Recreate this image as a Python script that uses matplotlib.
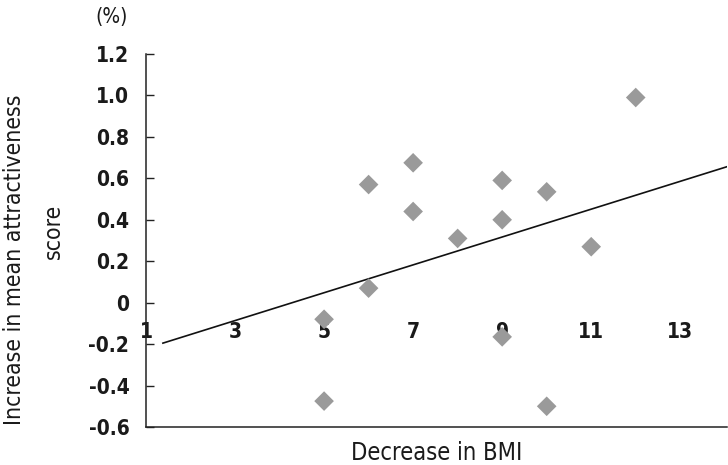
import matplotlib
matplotlib.use("Agg")
import matplotlib.pyplot as plt
import numpy as np

plt.rcParams['font.family'] = ['DejaVu Sans']
plt.rcParams['font.stretch'] = 'condensed'

# Data
bmi_decrease = [5, 5, 6, 6, 7, 7, 8, 9, 9, 9, 10, 10, 11, 12]
attract_increase = [-0.08, -0.475, 0.07, 0.57, 0.675, 0.44, 0.31, 0.59, 0.40, -0.165, 0.535, -0.50, 0.27, 0.99]
trend_x = [1.38, 14.05]
trend_slope = 0.0672
trend_intercept = -0.288
x_ticks = [1, 3, 5, 7, 9, 11, 13]
y_ticks = [-0.6, -0.4, -0.2, 0, 0.2, 0.4, 0.6, 0.8, 1.0, 1.2]
y_ticklabels = ['-0.6', '-0.4', '-0.2', '0', '0.2', '0.4', '0.6', '0.8', '1.0', '1.2']

fig = plt.figure(figsize=(7.28, 4.65), dpi=100)
ax = fig.add_axes([146/728, 1-427/465, (727-146)/728, (427-54)/465])

ax.scatter(bmi_decrease, attract_increase, marker='D', s=10**2, color='#9a9a9a',
           edgecolors='none', zorder=3)
tx = np.array(trend_x)
ax.plot(tx, trend_intercept + trend_slope*tx, color='#111111', lw=1.2, zorder=2)

ax.set_xlim(1, 14.05)
ax.set_ylim(-0.6, 1.2)

for s in ['top', 'right']:
    ax.spines[s].set_visible(False)
ax.spines['left'].set_color('#222222')
ax.spines['bottom'].set_color('#222222')
ax.spines['left'].set_linewidth(1.1)
ax.spines['bottom'].set_linewidth(1.1)

ax.set_yticks(y_ticks)
ax.set_yticklabels(y_ticklabels, fontweight='bold')
ax.tick_params(axis='y', direction='in', length=6, width=1, colors='#222222',
               labelsize=15, pad=12, labelcolor='#1a1a1a')
ax.set_xticks([])

sec = ax.secondary_xaxis(0.6/1.8)
sec.set_xticks(x_ticks)
sec.set_xticklabels([str(v) for v in x_ticks], fontweight='bold')
sec.tick_params(axis='x', length=0, labelsize=15, pad=14, labelcolor='#1a1a1a')
sec.spines['bottom'].set_visible(False)

ax.set_xlabel('Decrease in BMI', fontsize=17, color='#1a1a1a', labelpad=10)
fig.text(15/728, 1-260/465, 'Increase in mean attractiveness', rotation=90,
         fontsize=16.5, ha='center', va='center', color='#1a1a1a')
fig.text(53/728, 1-231/465, 'score', rotation=90,
         fontsize=16.5, ha='center', va='center', color='#1a1a1a')
fig.text(112/728, 1-17/465, '(%)', fontsize=15, ha='center', va='center', color='#1a1a1a')

fig.savefig('out.png', dpi=100)
